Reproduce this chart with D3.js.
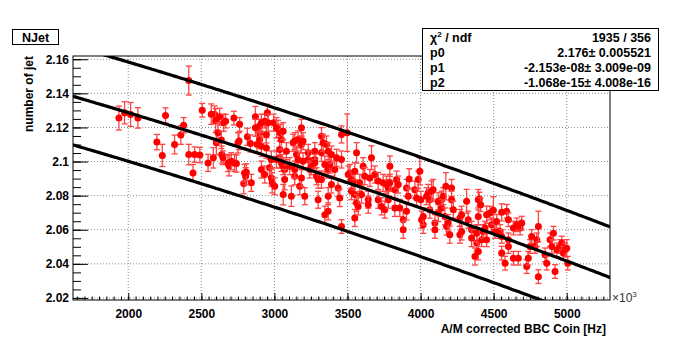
<!DOCTYPE html>
<html>
<head>
<meta charset="utf-8">
<script src="https://cdn.jsdelivr.net/npm/d3@7"></script>
<style>
	body { margin: 0; background: #fff; }
	text { font-family: "Liberation Sans", Arial, sans-serif; }
</style>
</head>
<body>
<script>

// BBC coincidence rate, units of 10^3 Hz
var coinKHz = [
	1936, 1975, 2016, 2066, 2196, 2233, 2255, 2317, 2360, 2379, 2414, 2414, 2443, 2454, 2490,
	2506, 2546, 2568, 2582, 2591, 2598, 2603, 2614, 2625, 2637, 2640, 2648, 2653, 2666, 2682,
	2690, 2705, 2723, 2728, 2740, 2751, 2758, 2762, 2790, 2796, 2803, 2808, 2815, 2836, 2842,
	2870, 2870, 2881, 2899, 2899, 2899,
	2911, 2911, 2911, 2934, 2934, 2945, 2945, 2952, 2957, 2967, 2979, 2979, 2985, 2995, 3002,
	3014, 3014, 3025, 3036, 3036, 3041, 3048, 3048, 3060, 3060, 3060, 3070, 3070, 3082, 3105,
	3116, 3128, 3139, 3139, 3139, 3151, 3162, 3162, 3173, 3185, 3185, 3185, 3196, 3196, 3208,
	3231, 3231, 3242, 3253, 3276, 3276, 3276, 3288, 3299, 3299, 3322, 3322, 3322, 3333, 3345,
	3345, 3356, 3368, 3368, 3368, 3368, 3379, 3390, 3390,
	3413, 3425, 3436, 3447, 3459, 3459, 3459, 3498, 3505, 3516, 3527, 3527, 3539, 3550, 3550,
	3550, 3562, 3562, 3573, 3584, 3596, 3607, 3618, 3642, 3642, 3653, 3664, 3687, 3710, 3710,
	3733, 3744, 3755, 3767, 3779, 3779, 3790, 3790, 3824, 3824, 3836, 3847, 3858, 3881, 3881,
	3904, 3904, 3916,
	3922, 3961, 3973, 3984, 3995, 4002, 4007, 4018, 4018, 4041, 4052, 4063, 4063, 4075, 4086,
	4098, 4098, 4121, 4121, 4144, 4144, 4155, 4167, 4173, 4178, 4189, 4200, 4212, 4212, 4224,
	4269, 4269, 4281, 4281, 4315, 4326, 4349, 4349, 4372, 4384, 4384, 4395, 4395, 4395,
	4402, 4411, 4418, 4429, 4441, 4452, 4452, 4475, 4486, 4498, 4509, 4521, 4544, 4555, 4555,
	4555, 4578, 4589, 4601, 4601, 4601, 4635, 4635, 4658, 4669, 4681, 4692, 4726, 4737, 4749,
	4760, 4783, 4795, 4806, 4806, 4852, 4863, 4886, 4898, 4909, 4920, 4932, 4955, 4966, 4977,
	4989, 5000, 5007
];

// mean number of jets per event
var nJet = [
	2.1255, 2.1286, 2.1276, 2.1256, 2.1114, 2.1036, 2.1270, 2.1100, 2.1156, 2.1213, 2.1475, 2.1041, 2.0933, 2.1041, 2.1038,
	2.1301, 2.0992, 2.1278, 2.1022, 2.1276, 2.1240, 2.1110, 2.1169, 2.1263, 2.1126, 2.1041, 2.1022, 2.1228, 2.1237, 2.0992,
	2.0976, 2.1002, 2.1255, 2.0992, 2.0988, 2.1110, 2.1120, 2.1218, 2.0871, 2.0933, 2.0914, 2.0937, 2.1145, 2.1106, 2.0875,
	2.1263, 2.1198, 2.1100, 2.1169, 2.1129, 2.1208,
	2.1228, 2.1090, 2.0953, 2.1237, 2.0924, 2.1080, 2.1159, 2.1286, 2.1228, 2.0963, 2.1012, 2.0904, 2.0876, 2.1228, 2.0855,
	2.1198, 2.1012, 2.1192, 2.1022, 2.1071, 2.1169, 2.1129, 2.0992, 2.1178, 2.0973, 2.0806, 2.0953, 2.0894, 2.1061, 2.0973,
	2.0797, 2.1110, 2.1120, 2.0914, 2.0953, 2.1041, 2.1129, 2.1012, 2.0855, 2.1198, 2.1100, 2.0904, 2.1002, 2.1120, 2.0797,
	2.1051, 2.1012, 2.0953, 2.0973, 2.1012, 2.1061, 2.0992, 2.0914, 2.0776, 2.0894, 2.1149, 2.1051, 2.0894, 2.1110, 2.0982,
	2.0688, 2.1100, 2.1061, 2.0953, 2.0797, 2.0708, 2.0982, 2.1041, 2.0865,
	2.0953, 2.1022, 2.0845, 2.0786, 2.1159, 2.1012, 2.0619, 2.1169, 2.0924, 2.0933, 2.0894, 2.0826, 2.0886, 2.0943, 2.0806,
	2.0669, 2.1051, 2.0757, 2.0737, 2.0875, 2.0806, 2.0973, 2.0914, 2.0776, 2.0747, 2.0904, 2.1022, 2.0924, 2.0886, 2.0776,
	2.0737, 2.0875, 2.0718, 2.0865, 2.0845, 2.0776, 2.0973, 2.0875, 2.0835, 2.0728, 2.0894, 2.0865, 2.0728, 2.0659, 2.0600,
	2.0845, 2.0708, 2.0797,
	2.0898, 2.0835, 2.0786, 2.0894, 2.0943, 2.0776, 2.0659, 2.0629, 2.0678, 2.0797, 2.0816, 2.0718, 2.0776, 2.0826, 2.0835,
	2.0639, 2.0600, 2.0698, 2.0767, 2.0776, 2.0728, 2.0797, 2.0678, 2.0855, 2.0619, 2.0639, 2.0571, 2.0845, 2.0776, 2.0718,
	2.0669, 2.0571, 2.0688, 2.0590, 2.0767, 2.0659, 2.0600, 2.0551, 2.0443, 2.0522, 2.0580, 2.0776, 2.0678, 2.0473,
	2.0780, 2.0747, 2.0541, 2.0590, 2.0610, 2.0688, 2.0541, 2.0698, 2.0629, 2.0714, 2.0590, 2.0649, 2.0590, 2.0702, 2.0561,
	2.0463, 2.0404, 2.0708, 2.0659, 2.0541, 2.0502, 2.0433, 2.0610, 2.0629, 2.0433, 2.0610, 2.0639, 2.0384, 2.0433, 2.0502,
	2.0561, 2.0502, 2.0541, 2.0619, 2.0325, 2.0453, 2.0404, 2.0541, 2.0502, 2.0580, 2.0355, 2.0482, 2.0502, 2.0522, 2.0463,
	2.0482, 2.0492, 2.0404
];

// statistical error on each point
var nJetErr = [
	0.0070, 0.0065, 0.0070, 0.0060, 0.0045, 0.0065, 0.0045, 0.0055, 0.0055, 0.0045, 0.0085, 0.0060, 0.0050, 0.0045, 0.0045,
	0.0040, 0.0050, 0.0060, 0.0060, 0.0050, 0.0070, 0.0070, 0.0060, 0.0050, 0.0050, 0.0050, 0.0040, 0.0050, 0.0040, 0.0050,
	0.0060, 0.0050, 0.0040, 0.0050, 0.0050, 0.0060, 0.0050, 0.0040, 0.0060, 0.0050, 0.0050, 0.0050, 0.0050, 0.0050, 0.0050,
	0.0060, 0.0050, 0.0050, 0.0050, 0.0050, 0.0040,
	0.0050, 0.0060, 0.0050, 0.0040, 0.0050, 0.0060, 0.0050, 0.0050, 0.0050, 0.0050, 0.0050, 0.0050, 0.0060, 0.0050, 0.0050,
	0.0060, 0.0050, 0.0050, 0.0060, 0.0050, 0.0050, 0.0060, 0.0050, 0.0050, 0.0050, 0.0060, 0.0050, 0.0060, 0.0050, 0.0050,
	0.0060, 0.0050, 0.0050, 0.0050, 0.0050, 0.0050, 0.0050, 0.0050, 0.0050, 0.0050, 0.0050, 0.0050, 0.0050, 0.0050, 0.0050,
	0.0050, 0.0050, 0.0050, 0.0050, 0.0050, 0.0050, 0.0050, 0.0050, 0.0050, 0.0050, 0.0050, 0.0050, 0.0050, 0.0050, 0.0050,
	0.0050, 0.0050, 0.0050, 0.0050, 0.0050, 0.0050, 0.0050, 0.0050, 0.0050,
	0.0050, 0.0050, 0.0050, 0.0050, 0.0050, 0.0050, 0.0040, 0.0110, 0.0050, 0.0050, 0.0050, 0.0050, 0.0050, 0.0050, 0.0050,
	0.0050, 0.0060, 0.0050, 0.0050, 0.0050, 0.0050, 0.0050, 0.0050, 0.0050, 0.0050, 0.0050, 0.0070, 0.0050, 0.0050, 0.0050,
	0.0050, 0.0050, 0.0050, 0.0050, 0.0050, 0.0050, 0.0060, 0.0050, 0.0050, 0.0050, 0.0050, 0.0050, 0.0050, 0.0050, 0.0050,
	0.0050, 0.0050, 0.0050,
	0.0060, 0.0050, 0.0050, 0.0050, 0.0080, 0.0050, 0.0050, 0.0050, 0.0050, 0.0050, 0.0050, 0.0050, 0.0050, 0.0060, 0.0060,
	0.0050, 0.0050, 0.0050, 0.0050, 0.0050, 0.0050, 0.0050, 0.0050, 0.0080, 0.0050, 0.0050, 0.0050, 0.0050, 0.0050, 0.0050,
	0.0050, 0.0050, 0.0050, 0.0050, 0.0070, 0.0050, 0.0050, 0.0050, 0.0050, 0.0050, 0.0050, 0.0060, 0.0050, 0.0050,
	0.0040, 0.0040, 0.0040, 0.0040, 0.0040, 0.0050, 0.0040, 0.0040, 0.0040, 0.0080, 0.0040, 0.0040, 0.0040, 0.0050, 0.0040,
	0.0040, 0.0040, 0.0040, 0.0040, 0.0040, 0.0040, 0.0040, 0.0040, 0.0040, 0.0040, 0.0040, 0.0040, 0.0040, 0.0040, 0.0040,
	0.0040, 0.0040, 0.0040, 0.0090, 0.0040, 0.0040, 0.0040, 0.0040, 0.0040, 0.0040, 0.0040, 0.0040, 0.0040, 0.0040, 0.0040,
	0.0040, 0.0050, 0.0040
];

// axis ticks
var xTicks = [2000, 2500, 3000, 3500, 4000, 4500, 5000];
var yTicks = [2.02, 2.04, 2.06, 2.08, 2.1, 2.12, 2.14, 2.16];
var yTickLabels = ["2.02", "2.04", "2.06", "2.08", "2.1", "2.12", "2.14", "2.16"];

// pol2 fit result and the band drawn around it
var fitParams = [2.176, -2.153e-08, -1.068e-15];
var bandOffsets = [0.0297, 0, -0.0285];
var statRows = [
	{name: "\u03c7", sup: "2", rest: " / ndf", value: "1935 / 356"},
	{name: "p0", value: "2.176\u00b1 0.005521"},
	{name: "p1", value: "-2.153e-08\u00b1 3.009e-09"},
	{name: "p2", value: "-1.068e-15\u00b1 4.008e-16"}
];

var W = 684, H = 349;
var frame = {left: 73, right: 610, top: 56, bottom: 300};

var svg = d3.select("body").append("svg")
	.attr("width", W)
	.attr("height", H);

var x = d3.scaleLinear().domain([1622, 5296]).range([frame.left, frame.right]);
var y = d3.scaleLinear().domain([2.0188, 2.1619]).range([frame.bottom, frame.top]);

svg.append("clipPath").attr("id", "clip")
	.append("rect")
		.attr("x", frame.left)
		.attr("y", frame.top)
		.attr("width", frame.right - frame.left)
		.attr("height", frame.bottom - frame.top);

// dotted grid
var grid = svg.append("g").attr("stroke", "#8a8a8a").attr("stroke-dasharray", "1,2");
grid.selectAll(".gx").data(xTicks).enter().append("line")
	.attr("x1", function(d) { return x(d); })
	.attr("x2", function(d) { return x(d); })
	.attr("y1", frame.top)
	.attr("y2", frame.bottom);
grid.selectAll(".gy").data(yTicks).enter().append("line")
	.attr("x1", frame.left)
	.attr("x2", frame.right)
	.attr("y1", function(d) { return y(d); })
	.attr("y2", function(d) { return y(d); });

// data points with error bars
var pts = d3.range(coinKHz.length).map(function(i) {
	return {x: coinKHz[i], y: nJet[i], e: nJetErr[i]};
});

var gp = svg.append("g").attr("clip-path", "url(#clip)");
var pt = gp.selectAll("g.pt").data(pts).enter().append("g").attr("class", "pt");
pt.append("line")
	.attr("x1", function(d) { return x(d.x); })
	.attr("x2", function(d) { return x(d.x); })
	.attr("y1", function(d) { return y(d.y - d.e); })
	.attr("y2", function(d) { return y(d.y + d.e); })
	.attr("stroke", "#f44")
	.attr("stroke-width", 1.3);
[-1, 1].forEach(function(s) {
	pt.append("line")
		.attr("x1", function(d) { return x(d.x) - 3; })
		.attr("x2", function(d) { return x(d.x) + 3; })
		.attr("y1", function(d) { return y(d.y + s * d.e); })
		.attr("y2", function(d) { return y(d.y + s * d.e); })
		.attr("stroke", "#f44")
		.attr("stroke-width", 1.3);
});
pt.append("circle")
	.attr("cx", function(d) { return x(d.x); })
	.attr("cy", function(d) { return y(d.y); })
	.attr("r", 3.5)
	.attr("fill", "#ff0000");

// fit curve and band
function fit(k) {
	var hz = k * 1000;
	return fitParams[0] + fitParams[1] * hz + fitParams[2] * hz * hz;
}
var xs = d3.range(x.domain()[0], x.domain()[1] + 20, 20);
var line = d3.line()
	.x(function(d) { return x(d[0]); })
	.y(function(d) { return y(d[1]); });
gp.selectAll("path.fit").data(bandOffsets).enter().append("path")
	.attr("class", "fit")
	.attr("d", function(off) {
		return line(xs.map(function(k) { return [k, fit(k) + off]; }));
	})
	.attr("fill", "none")
	.attr("stroke", "#000")
	.attr("stroke-width", 3.2);

// axes, ticks inside the frame
var axisStyle = function(g) {
	g.select(".domain").remove();
	g.selectAll("line").attr("stroke", "#000");
	g.selectAll("text")
		.attr("fill", "#000")
		.style("font-size", "12px")
		.style("font-weight", "bold")
		.style("font-family", "'Liberation Sans', Arial, sans-serif");
};

svg.append("g")
	.attr("transform", "translate(0," + frame.bottom + ")")
	.call(d3.axisBottom(x).tickValues(d3.range(1650, 5296, 50)).tickSize(-3.5).tickFormat(""))
	.call(axisStyle);
svg.append("g")
	.attr("transform", "translate(0," + frame.bottom + ")")
	.call(d3.axisBottom(x).tickValues(xTicks).tickSize(-7).tickPadding(9).tickFormat(d3.format("d")))
	.call(axisStyle);

svg.append("g")
	.attr("transform", "translate(" + frame.left + ",0)")
	.call(d3.axisLeft(y).tickValues(d3.range(2.02, 2.1619, 0.005)).tickSize(-8).tickFormat(""))
	.call(axisStyle);
svg.append("g")
	.attr("transform", "translate(" + frame.left + ",0)")
	.call(d3.axisLeft(y).tickValues(yTicks).tickSize(-15).tickPadding(4)
		.tickFormat(function(d, i) { return yTickLabels[i]; }))
	.call(axisStyle);

// frame
svg.append("rect")
	.attr("x", frame.left)
	.attr("y", frame.top)
	.attr("width", frame.right - frame.left)
	.attr("height", frame.bottom - frame.top)
	.attr("fill", "none")
	.attr("stroke", "#000");

// x10^3 exponent
var ex = svg.append("text")
	.attr("x", frame.right + 2)
	.attr("y", frame.bottom + 2)
	.style("font-size", "12px")
	.attr("fill", "#333")
	.text("\u00d710");
ex.append("tspan").attr("dy", -5).style("font-size", "8px").text("3");

// axis titles
svg.append("text")
	.attr("x", 606)
	.attr("y", 333)
	.attr("text-anchor", "end")
	.style("font-size", "12px")
	.style("font-weight", "bold")
	.text("A/M corrected BBC Coin [Hz]");

svg.append("text")
	.attr("transform", "translate(33," + frame.top + ") rotate(-90)")
	.attr("text-anchor", "end")
	.style("font-size", "12px")
	.style("font-weight", "bold")
	.text("number of jet");

// title box
svg.append("rect")
	.attr("x", 12.5).attr("y", 29.5)
	.attr("width", 46).attr("height", 15)
	.attr("fill", "#fff").attr("stroke", "#000");
svg.append("text")
	.attr("x", 35.5).attr("y", 41.5)
	.attr("text-anchor", "middle")
	.style("font-size", "12.5px")
	.style("font-weight", "bold")
	.text("NJet");

// fit statistics box
svg.append("rect")
	.attr("x", 422.5).attr("y", 28.5)
	.attr("width", 236).attr("height", 62)
	.attr("fill", "#fff").attr("stroke", "#000");
var st = svg.selectAll("g.stat").data(statRows).enter().append("g").attr("class", "stat")
	.attr("transform", function(d, i) { return "translate(0," + (41.5 + i * 15.3) + ")"; })
	.style("font-size", "12.5px")
	.style("font-weight", "bold");
st.append("text")
	.attr("x", 430)
	.each(function(d) {
		var t = d3.select(this).text(d.name);
		if (d.sup) {
			t.append("tspan").attr("dy", -5).style("font-size", "8px").text(d.sup);
			t.append("tspan").attr("dy", 5).text(d.rest);
		}
	});
st.append("text")
	.attr("x", 651)
	.attr("text-anchor", "end")
	.text(function(d) { return d.value; });

</script>
</body>
</html>
